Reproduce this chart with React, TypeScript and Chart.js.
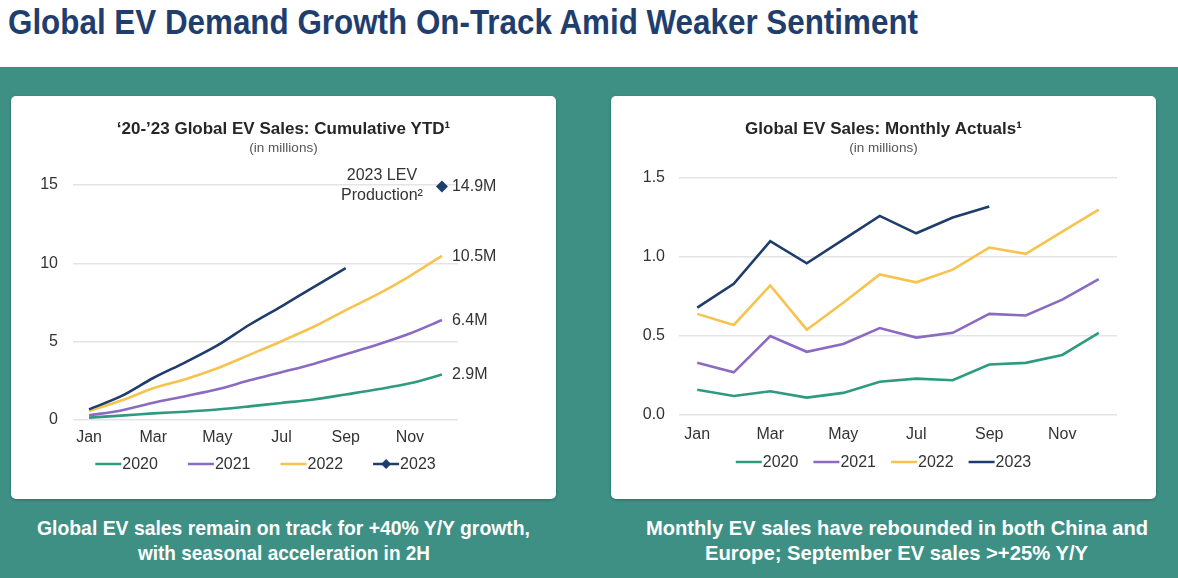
import React, { useEffect, useLayoutEffect, useRef } from 'react';
import { Chart, registerables } from 'chart.js';

Chart.register(...registerables);

// ---------- data ----------
const MONTHS = ['Jan', 'Feb', 'Mar', 'Apr', 'May', 'Jun', 'Jul', 'Aug', 'Sep', 'Oct', 'Nov', 'Dec'];
const SERIES_NAMES = ['2020', '2021', '2022', '2023'];
const SERIES_COLORS = ['#2e9a80', '#8b6bc2', '#f6c34f', '#1f3d6c'];

// cumulative YTD (millions)
const CUM_2020 = [0.15, 0.28, 0.42, 0.53, 0.67, 0.87, 1.09, 1.31, 1.63, 1.96, 2.34, 2.9];
const CUM_2021 = [0.3, 0.61, 1.1, 1.52, 1.96, 2.53, 3.05, 3.58, 4.2, 4.82, 5.52, 6.38];
const CUM_2022 = [0.58, 1.24, 2.03, 2.6, 3.3, 4.16, 5.03, 5.95, 7.01, 8.03, 9.19, 10.48];
const CUM_2023 = [0.68, 1.52, 2.68, 3.68, 4.76, 6.08, 7.26, 8.48, 9.7, null, null, null];
const LEV_2023 = [null, null, null, null, null, null, null, null, null, null, null, 14.9];
const CUM_END_LABELS = ['2.9M', '6.4M', '10.5M'];
const LEV_LABEL = '14.9M';
const LEV_NOTE = ['2023 LEV', 'Production\u00b2'];
const CUM_TICKS = [0, 5, 10, 15];

// monthly actuals (millions)
const MON_2020 = [0.16, 0.12, 0.15, 0.11, 0.14, 0.21, 0.23, 0.22, 0.32, 0.33, 0.38, 0.52];
const MON_2021 = [0.33, 0.27, 0.5, 0.4, 0.45, 0.55, 0.49, 0.52, 0.64, 0.63, 0.73, 0.86];
const MON_2022 = [0.64, 0.57, 0.82, 0.54, 0.71, 0.89, 0.84, 0.92, 1.06, 1.02, 1.16, 1.3];
const MON_2023 = [0.68, 0.83, 1.1, 0.96, 1.11, 1.26, 1.15, 1.25, 1.32, null, null, null];
const MON_TICKS = [0, 0.5, 1.0, 1.5];

const CUM_SERIES = [CUM_2020, CUM_2021, CUM_2022, CUM_2023];
const MON_SERIES = [MON_2020, MON_2021, MON_2022, MON_2023];

const PAGE_TITLE = 'Global EV Demand Growth On-Track Amid Weaker Sentiment';
const LEFT_TITLE = '\u201820-\u201923 Global EV Sales: Cumulative YTD\u00b9';
const RIGHT_TITLE = 'Global EV Sales: Monthly Actuals\u00b9';
const SUBTITLE = '(in millions)';
const LEFT_CAPTION = ['Global EV sales remain on track for +40% Y/Y growth,', 'with seasonal acceleration in 2H'];
const RIGHT_CAPTION = ['Monthly EV sales have rebounded in both China and', 'Europe; September EV sales >+25% Y/Y'];

// ---------- styling ----------
const FONT = "'Liberation Sans', Arial, Helvetica, sans-serif";
const NARROW = "'Liberation Sans Narrow', 'Arial Narrow', 'Liberation Sans', Arial, sans-serif";
const TEXT = '#333333';
const NAVY_TITLE = '#1f3e6e';
const TEAL_BG = '#3e9085';
const GRID = '#e4e4e4';
const TICK_SIZE = 16;

function drawDiamond(ctx: CanvasRenderingContext2D, x: number, y: number, r: number, color: string) {
  ctx.save();
  ctx.fillStyle = color;
  ctx.beginPath();
  ctx.moveTo(x, y - r);
  ctx.lineTo(x + r, y);
  ctx.lineTo(x, y + r);
  ctx.lineTo(x - r, y);
  ctx.closePath();
  ctx.fill();
  ctx.restore();
}

const lineLegendPlugin = {
  id: 'lineLegend',
  afterDraw(chart: any, _args: any, opts: any) {
    const { ctx, chartArea } = chart;
    const items = chart.data.datasets.filter((d: any) => d.inLegend !== false);
    ctx.save();
    ctx.font = `${opts.fontSize}px ${FONT}`;
    const widths = items.map((d: any) => opts.lineLength + opts.textGap + ctx.measureText(d.label).width);
    const total = widths.reduce((a: number, b: number) => a + b, 0) + opts.itemGap * (items.length - 1);
    const cx = opts.centerOn === 'area' ? (chartArea.left + chartArea.right) / 2 : chart.width / 2;
    let x = cx - total / 2;
    const y = chartArea.bottom + opts.offsetY;
    items.forEach((d: any, i: number) => {
      ctx.strokeStyle = d.borderColor;
      ctx.lineWidth = 2.5;
      ctx.beginPath();
      ctx.moveTo(x, y);
      ctx.lineTo(x + opts.lineLength, y);
      ctx.stroke();
      if (d.legendMarker) drawDiamond(ctx, x + opts.lineLength / 2, y, 5, d.borderColor);
      ctx.fillStyle = TEXT;
      ctx.textBaseline = 'middle';
      ctx.textAlign = 'left';
      ctx.fillText(d.label, x + opts.lineLength + opts.textGap, y + 0.5);
      x += widths[i] + opts.itemGap;
    });
    ctx.restore();
  },
};

const endLabelPlugin = {
  id: 'endLabels',
  afterDatasetsDraw(chart: any, _args: any, opts: any) {
    if (!opts || !opts.labels) return;
    const { ctx } = chart;
    ctx.save();
    ctx.font = `${TICK_SIZE}px ${FONT}`;
    ctx.fillStyle = TEXT;
    ctx.textBaseline = 'middle';
    const lastPoint = (di: number) => {
      const data = chart.data.datasets[di].data;
      let idx = data.length - 1;
      while (idx >= 0 && data[idx] == null) idx--;
      return chart.getDatasetMeta(di).data[idx];
    };
    opts.labels.forEach((l: any) => {
      const pt = lastPoint(l.datasetIndex);
      ctx.textAlign = 'left';
      ctx.fillText(l.text, pt.x + opts.dx, pt.y + 0.5);
    });
    if (opts.note) {
      const pt = lastPoint(opts.note.datasetIndex);
      ctx.textAlign = 'center';
      ctx.fillText(opts.note.lines[0], pt.x - 60, pt.y - 10.5);
      ctx.fillText(opts.note.lines[1], pt.x - 60, pt.y + 9.5);
    }
    ctx.restore();
  },
};

function baseOptions(p: {
  title: string;
  subBottom: number;
  yWidth: number;
  rightPad: number;
  bottomPad: number;
  ticks: number[];
  fmt: (v: number) => string;
  xPad: number;
  yPad: number;
  legend: any;
  endLabels?: any;
}) {
  return {
    animation: false,
    responsive: false,
    events: [],
    layout: { padding: { top: 0, left: 0, right: 0, bottom: p.bottomPad } },
    scales: {
      x: {
        type: 'category',
        offset: true,
        grid: { display: false, drawTicks: false },
        border: { display: false },
        ticks: {
          autoSkip: false,
          maxRotation: 0,
          padding: p.xPad,
          color: TEXT,
          font: { size: TICK_SIZE, family: FONT },
          callback: (_v: any, i: number) => (i % 2 === 0 ? MONTHS[i] : ''),
        },
        afterFit: (s: any) => {
          s.height = 34;
        },
      },
      y: {
        type: 'linear',
        position: 'left',
        min: p.ticks[0],
        max: p.ticks[p.ticks.length - 1],
        afterBuildTicks: (s: any) => {
          s.ticks = p.ticks.map((v) => ({ value: v }));
        },
        grid: { color: GRID, lineWidth: 1.5, drawTicks: false },
        border: { display: false },
        ticks: {
          padding: p.yPad,
          color: TEXT,
          font: { size: TICK_SIZE, family: FONT },
          callback: (v: any) => p.fmt(Number(v)),
        },
        afterFit: (s: any) => {
          s.width = p.yWidth;
        },
      },
      pad: {
        type: 'linear',
        position: 'right',
        display: true,
        grid: { display: false, drawTicks: false },
        border: { display: false },
        ticks: { display: false },
        afterFit: (s: any) => {
          s.width = p.rightPad;
        },
      },
    },
    plugins: {
      legend: { display: false },
      tooltip: { enabled: false },
      title: {
        display: true,
        text: p.title,
        color: '#262626',
        font: { size: 17, weight: 'bold', family: FONT },
        padding: { top: 22.8, bottom: 0 },
      },
      subtitle: {
        display: true,
        text: SUBTITLE,
        color: '#555555',
        font: { size: 13.5, family: FONT },
        padding: { top: 0.7, bottom: p.subBottom },
      },
      lineLegend: p.legend,
      endLabels: p.endLabels || {},
    },
  };
}

function cumulativeConfig(): any {
  const datasets: any[] = SERIES_NAMES.map((name, i) => ({
    label: name,
    data: CUM_SERIES[i],
    borderColor: SERIES_COLORS[i],
    backgroundColor: SERIES_COLORS[i],
    borderWidth: 2.6,
    pointRadius: 0,
    tension: 0.3,
    order: 3 - i,
    legendMarker: i === 3,
  }));
  datasets.push({
    label: 'LEV',
    data: LEV_2023,
    showLine: false,
    pointStyle: 'rectRot',
    pointRadius: 6,
    borderWidth: 0,
    borderColor: SERIES_COLORS[3],
    backgroundColor: SERIES_COLORS[3],
    order: -1,
    clip: false,
    inLegend: false,
  });
  return {
    type: 'line',
    data: { labels: MONTHS, datasets },
    options: baseOptions({
      title: LEFT_TITLE,
      subBottom: 28.9,
      yWidth: 62,
      rightPad: 98,
      bottomPad: 45,
      ticks: CUM_TICKS,
      fmt: (v) => String(v),
      xPad: 7.5,
      yPad: 15,
      legend: { fontSize: TICK_SIZE, lineLength: 26, textGap: 1, itemGap: 30, centerOn: 'area', offsetY: 44 },
      endLabels: {
        dx: 10,
        labels: [
          ...CUM_END_LABELS.map((t, i) => ({ datasetIndex: i, text: t })),
          { datasetIndex: 4, text: LEV_LABEL },
        ],
        note: { datasetIndex: 4, lines: LEV_NOTE },
      },
    }),
    plugins: [lineLegendPlugin, endLabelPlugin],
  };
}

function monthlyConfig(): any {
  const datasets: any[] = SERIES_NAMES.map((name, i) => ({
    label: name,
    data: MON_SERIES[i],
    borderColor: SERIES_COLORS[i],
    backgroundColor: SERIES_COLORS[i],
    borderWidth: 2.6,
    pointRadius: 0,
    tension: 0,
    order: 3 - i,
  }));
  return {
    type: 'line',
    data: { labels: MONTHS, datasets },
    options: baseOptions({
      title: RIGHT_TITLE,
      subBottom: 21.9,
      yWidth: 68,
      rightPad: 39,
      bottomPad: 50,
      ticks: MON_TICKS,
      fmt: (v) => v.toFixed(1),
      xPad: 9.5,
      yPad: 14,
      legend: { fontSize: TICK_SIZE, lineLength: 26, textGap: 1, itemGap: 15, centerOn: 'canvas', offsetY: 47 },
    }),
    plugins: [lineLegendPlugin, endLabelPlugin],
  };
}

function ChartCard({ left, top, width, height, makeConfig }: any) {
  const ref = useRef<HTMLCanvasElement>(null);
  useEffect(() => {
    if (!ref.current) return;
    const chart = new Chart(ref.current, makeConfig());
    return () => chart.destroy();
  }, [makeConfig]);
  return (
    <div
      style={{
        position: 'absolute',
        left,
        top,
        width,
        height,
        background: '#ffffff',
        borderRadius: 5,
        boxShadow: '0 1px 3px rgba(0,0,0,0.25)',
        overflow: 'hidden',
      }}
    >
      <canvas ref={ref} width={width} height={height} style={{ display: 'block' }} />
    </div>
  );
}

function FitText({ text, x, y, width, size, color, lineHeight }: any) {
  const ref = useRef<HTMLSpanElement>(null);
  useLayoutEffect(() => {
    const el = ref.current;
    if (!el) return;
    el.style.transform = 'none';
    const w = el.getBoundingClientRect().width;
    if (w > 0) el.style.transform = `scaleX(${width / w})`;
  }, [text, width]);
  return (
    <span
      ref={ref}
      style={{
        position: 'absolute',
        left: x,
        top: y,
        display: 'inline-block',
        whiteSpace: 'nowrap',
        transformOrigin: 'left top',
        fontFamily: NARROW,
        fontWeight: 'bold',
        fontSize: size,
        lineHeight: `${lineHeight}px`,
        color,
      }}
    >
      {text}
    </span>
  );
}

export default function App() {
  return (
    <div
      style={{
        position: 'fixed',
        left: 0,
        top: 0,
        width: 1178,
        height: 578,
        background: '#ffffff',
        overflow: 'hidden',
        fontFamily: FONT,
      }}
    >
      <FitText text={PAGE_TITLE} x={8} y={5} width={910} size={34.5} lineHeight={34} color={NAVY_TITLE} />
      <div style={{ position: 'absolute', left: 0, top: 67, width: 1178, height: 511, background: TEAL_BG }} />
      <ChartCard left={11} top={96} width={545} height={403} makeConfig={cumulativeConfig} />
      <ChartCard left={611} top={96} width={545} height={403} makeConfig={monthlyConfig} />
      <FitText text={LEFT_CAPTION[0]} x={37} y={517} width={493} size={21} lineHeight={21} color="#ffffff" />
      <FitText text={LEFT_CAPTION[1]} x={138} y={542} width={292} size={21} lineHeight={21} color="#ffffff" />
      <FitText text={RIGHT_CAPTION[0]} x={646} y={517} width={502} size={21} lineHeight={21} color="#ffffff" />
      <FitText text={RIGHT_CAPTION[1]} x={705} y={542} width={383} size={21} lineHeight={21} color="#ffffff" />
    </div>
  );
}
